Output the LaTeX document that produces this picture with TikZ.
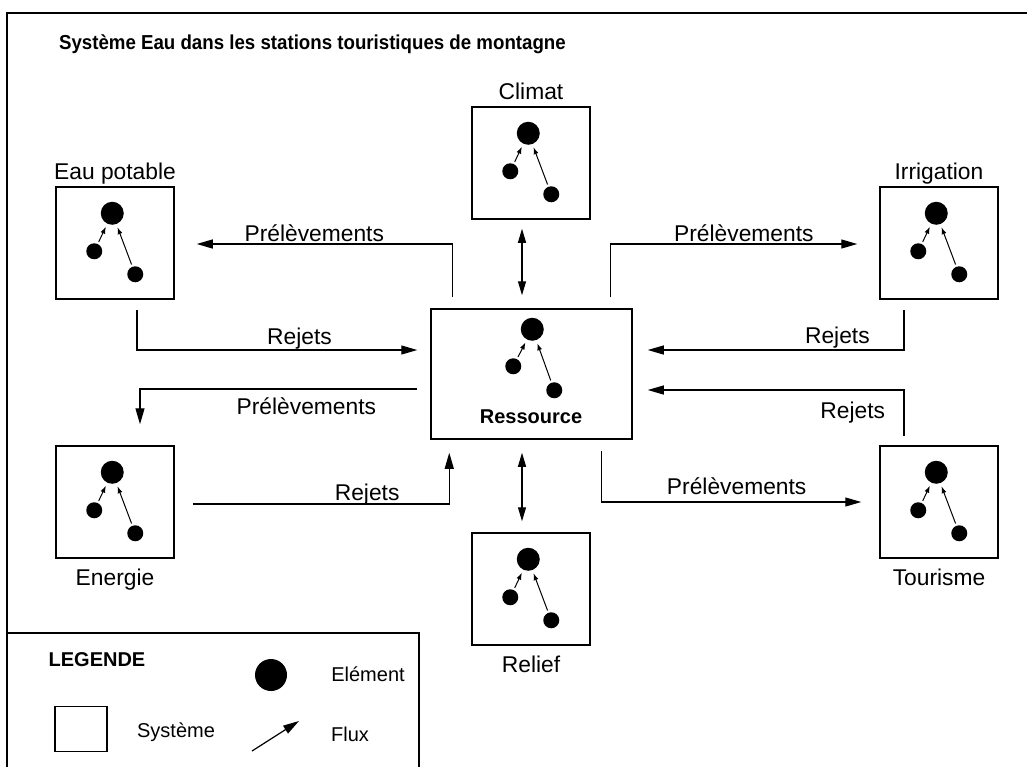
\documentclass[tikz,border=0pt]{standalone}
\usepackage{fontspec}
\setmainfont{Liberation Sans}
\usetikzlibrary{arrows.meta,positioning,calc}

\begin{document}
\begin{tikzpicture}[x=0.5pt,y=-0.5pt,
    systeme/.style={draw,line width=0.75pt,minimum width=59pt,minimum height=56pt,inner sep=0pt},
    grand/.style={circle,fill,inner sep=0pt,minimum size=11.5pt},
    petit/.style={circle,fill,inner sep=0pt,minimum size=8pt},
    lien/.style={-{Latex[length=3.5pt,width=2.5pt]},line width=0.5pt,shorten >=1.5pt,shorten <=1pt},
    flux/.style={-{Triangle[length=8pt,width=4.5pt]},line width=0.6pt},
    echange/.style={{Triangle[length=7pt,width=4pt]}-{Triangle[length=7pt,width=4pt]},line width=0.6pt},
    etiq/.style={font=\fontsize{11.4}{14}\selectfont},
    titre/.style={font=\fontsize{11.4}{14}\selectfont,text height=8.5pt,text depth=0pt},
    leg/.style={font=\fontsize{10}{12}\selectfont}]
  \useasboundingbox (0,0) rectangle (1027,767);

  % cadres
  \draw[line width=1pt] (7,767) -- (7,13) -- (1027,13);
  \draw[line width=0.75pt] (7,633) -| (419,767);
  \node[anchor=west,font=\fontsize{10.1}{12}\selectfont\bfseries] (titre) at (52,44)
    {\scalebox{0.925}[1]{Système Eau dans les stations touristiques de montagne}};

  % systemes
  \foreach \n/\x/\y in {clim/531/163, eau/115/243, irr/939/243,
                        ener/115/502, tour/939/502, rel/531/589} {
    \node[systeme] (\n) at (\x,\y) {};
    \node[grand] (\n-a) at ($(\n.north west)+(57,27)$) {};
    \node[petit] (\n-b) at ($(\n.north west)+(39,65)$) {};
    \node[petit] (\n-c) at ($(\n.north west)+(80,88)$) {};
    \draw[lien] (\n-b) -- (\n-a);
    \draw[lien] (\n-c) -- (\n-a);
  }
  \node[titre,above=0pt of clim] (clim-t) {Climat};
  \node[titre,above=0pt of eau] (eau-t) {Eau potable};
  \node[titre,above=0pt of irr] (irr-t) {Irrigation};
  \node[etiq,below=1.5pt of ener] (ener-t) {Energie};
  \node[etiq,below=1.5pt of tour] (tour-t) {Tourisme};
  \node[etiq,below=1.5pt of rel] (rel-t) {Relief};

  \node[systeme,minimum width=100.5pt,minimum height=65pt] (ress) at (531.5,374) {};
  \node[grand] (ress-a) at ($(ress.north west)+(102,21)$) {};
  \node[petit] (ress-b) at ($(ress.north west)+(83,58)$) {};
  \node[petit] (ress-c) at ($(ress.north west)+(124,82)$) {};
  \draw[lien] (ress-b) -- (ress-a);
  \draw[lien] (ress-c) -- (ress-a);
  \node[font=\fontsize{10}{12}\selectfont\bfseries] (ress-t) at (531,417) {Ressource};

  % flux
  \draw[flux] ($(ress.north west)+(22,-11)$) |- ($(eau.east)+(22,1)$)
    node[etiq,pos=0.77,above=-2.5pt] {Prélèvements};
  \draw[flux] ($(eau.south)+(22,10)$) |- ($(ress.west)+(-13,-24)$)
    node[etiq,pos=0.79,above=-3pt] {Rejets};
  \draw[flux] ($(ress.west)+(-13,15)$) -| ($(ener.north)+(25,-21)$)
    node[etiq,pos=0.2,below=0.5pt] {Prélèvements};
  \draw[flux] ($(ener.east)+(18,2)$) -| ($(ress.south west)+(19,13)$)
    node[etiq,pos=0.34,above=-4pt] {Rejets};
  \draw[flux] ($(ress.north east)+(-22,-11)$) |- ($(irr.west)+(-22,1)$)
    node[etiq,pos=0.77,above=-2.5pt] {Prélèvements};
  \draw[flux] ($(irr.south)+(-35,10)$) |- ($(ress.east)+(15,-24)$)
    node[etiq,pos=0.63,above=-2.5pt] {Rejets};
  \draw[flux] ($(tour.north)+(-35,-9)$) |- ($(ress.east)+(15,16)$)
    node[etiq,pos=0.6,below=2.5pt] {Rejets};
  \draw[flux] ($(ress.south east)+(-31,11)$) |- ($(tour.west)+(-18,0)$)
    node[etiq,pos=0.76,above=0pt] {Prélèvements};
  \draw[echange] ($(clim.south)+(-9,9)$) -- ($(ress.north)+(-9.5,-13)$);
  \draw[echange] ($(ress.south)+(-9.5,13)$) -- ($(rel.north)+(-9,-11)$);

  % legende
  \node[font=\fontsize{10}{12}\selectfont\bfseries] (leg-t) at (97,660) {LEGENDE};
  \node[circle,fill,inner sep=0pt,minimum size=16pt] (leg-elem) at (271,675) {};
  \node[leg] (leg-elem-t) at (368,674) {Elément};
  \node[draw,line width=0.6pt,minimum width=26pt,minimum height=22.5pt,inner sep=0pt] (leg-sys) at (81,729) {};
  \node[leg] (leg-sys-t) at (176,732) {Système};
  \coordinate (leg-flux-a) at (252,751);
  \coordinate (leg-flux-b) at (299,721);
  \draw[-{Triangle[length=8pt,width=4.5pt]},line width=0.6pt] (leg-flux-a) -- (leg-flux-b);
  \node[leg] (leg-flux-t) at (350,734) {Flux};
\end{tikzpicture}
\end{document}
